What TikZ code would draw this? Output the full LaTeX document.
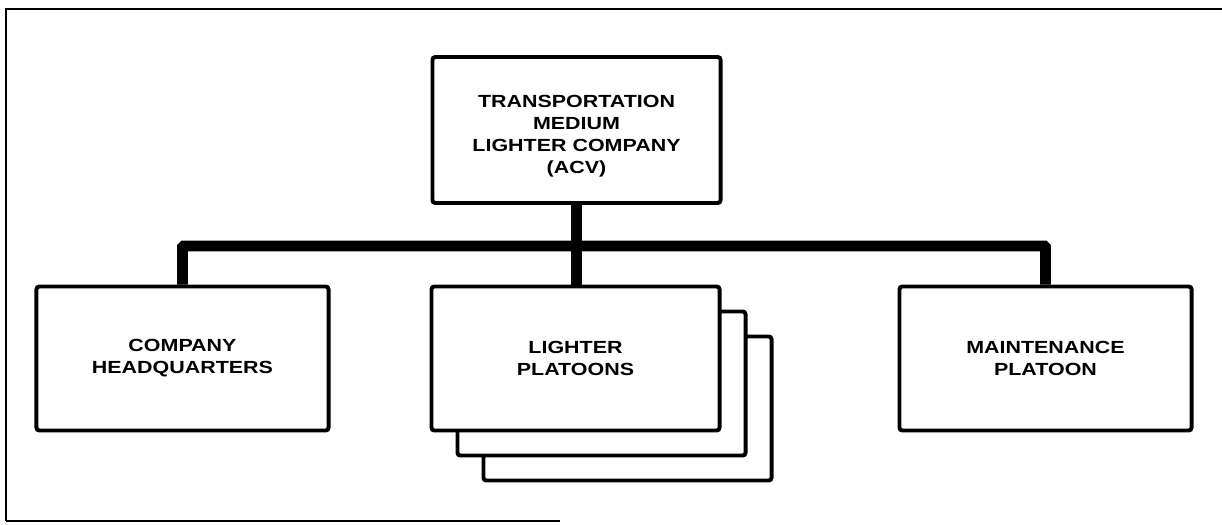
\documentclass[tikz,border=0pt]{standalone}
\usepackage{fontspec}
\newfontfamily\orgfont{Liberation Sans}[FakeStretch=1.22]
\usetikzlibrary{positioning}

\tikzset{
  unit/.style={draw,line width=2.8pt,rounded corners=2pt,fill=white,
    align=center,font=\orgfont\bfseries\fontsize{12.5}{15.6}\selectfont,
    minimum width=7.3cm,minimum height=3.6cm,inner sep=0pt},
  bus/.style={line width=7.8pt,rounded corners=1pt},
  frame/.style={line width=1.3pt}
}

\begin{document}
\begin{tikzpicture}[x=0.025cm,y=-0.025cm]
  \useasboundingbox (0,0) rectangle (1222,525);
  \draw[frame] (6,521) -- (6,9) -- (1222,9);
  \draw[frame] (6,521) -- (560,521);

  \node[unit,minimum width=7.2cm,minimum height=3.65cm] (acv) at (576.5,130)
    {\raisebox{-4.5pt}[\height][\depth]{\parbox{7cm}{\centering
      TRANSPORTATION\\MEDIUM\\LIGHTER COMPANY\\(ACV)}}};
  \node[unit] (hq) at (182.5,358.5) {COMPANY\\HEADQUARTERS};
  \node[unit,minimum width=7.2cm] (plt3) at (627.5,408.5) {};
  \node[unit,minimum width=7.2cm] (plt2) at (601.5,383.5) {};
  \node[unit,minimum width=7.2cm] (plt) at (575.5,358.5) {LIGHTER\\PLATOONS};
  \node[unit] (mnt) at (1045.5,358.5) {MAINTENANCE\\PLATOON};

  \coordinate (bus) at (577,246);
  \draw[bus] (hq.north) |- (bus) -| (mnt.north);
  \draw[bus] (acv.south) -- (acv.south |- plt.north);
\end{tikzpicture}
\end{document}
